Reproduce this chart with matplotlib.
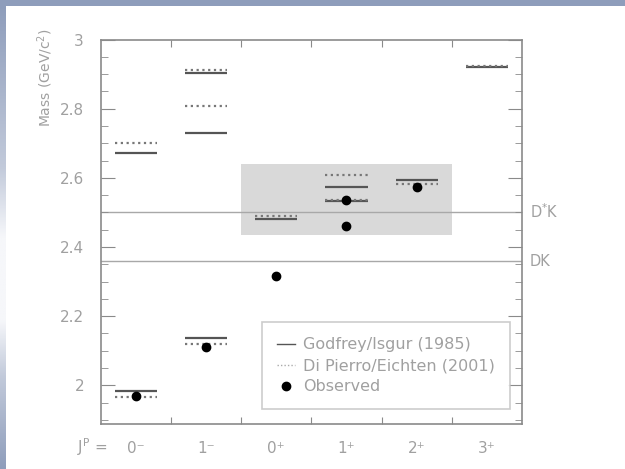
import numpy as np
import matplotlib
matplotlib.use("Agg")
import matplotlib.pyplot as plt
from matplotlib.patches import Rectangle
from matplotlib.lines import Line2D
from matplotlib.ticker import MultipleLocator, FuncFormatter, FixedLocator

# ---------------- data ----------------
categories = ["0\u207b", "1\u207b", "0\u207a", "1\u207a", "2\u207a", "3\u207a"]

gi_cat = [0, 0, 1, 1, 1, 2, 3, 3, 4, 5]
gi_mass = [1.982, 2.671, 2.136, 2.731, 2.902, 2.481, 2.534, 2.572, 2.593, 2.920]

dpe_cat = [0, 0, 1, 1, 1, 2, 3, 3, 4, 5]
dpe_mass = [1.965, 2.700, 2.119, 2.807, 2.912, 2.489, 2.536, 2.608, 2.583, 2.922]

obs_cat = [0, 1, 2, 3, 3, 4]
obs_mass = [1.969, 2.112, 2.317, 2.460, 2.536, 2.573]

thresholds = [2.501, 2.359]
threshold_labels = ["D$^{*}$K", "DK"]

legend_labels = ["Godfrey/Isgur (1985)", "Di Pierro/Eichten (2001)", "Observed"]

# ---------------- figure ----------------
W, H = 625, 469
fig = plt.figure(figsize=(W / 100, H / 100), dpi=100)
fig.patch.set_facecolor("white")

# blue frame: top bar and left gradient bar
fig.add_artist(Rectangle((0, 1 - 6 / H), 1, 6 / H, transform=fig.transFigure,
                         facecolor="#8e9dbb", edgecolor="none", zorder=0))
gax = fig.add_axes([0, 0, 6 / W, 1 - 6 / H])
gax.set_axis_off()
stops = np.array([0.0, 0.35, 0.5, 0.68, 0.8, 1.0])
top = np.array([0x8e, 0x9d, 0xbb]) / 255
mid = np.array([0xf6, 0xf7, 0xfa]) / 255
cols = [top, (top * 0.5 + mid * 0.5), mid, mid, (top * 0.5 + mid * 0.5), top]
n = 400
t = np.linspace(0, 1, n)
grad = np.zeros((n, 1, 3))
for c in range(3):
    grad[:, 0, c] = np.interp(t, stops, [col[c] for col in cols])
gax.imshow(grad, aspect="auto", extent=(0, 1, 1, 0))

ax_top, ax_bot = 39.5, 424.0
ax = fig.add_axes([100.7 / W, (H - ax_bot) / H, (522 - 100.7) / W, (ax_bot - ax_top) / H])

text_col = "#a0a0a0"
frame_col = "#8a8a8a"

ax.set_xlim(0, 6)
ax.set_ylim(1.888, 3.0)

# shaded region
ax.add_patch(Rectangle((2, 2.436), 3, 0.205, facecolor="#d9d9d9", edgecolor="none", zorder=0))

# thresholds
for m, lab in zip(thresholds, threshold_labels):
    ax.axhline(m, color="#a8a8a8", lw=1.0, zorder=1)
    ax.text(1.018, m, lab, transform=ax.get_yaxis_transform(), ha="left", va="center",
            fontsize=10.5, color=text_col)

hw = 0.3
gx = np.array(gi_cat) + 0.5
ax.hlines(gi_mass, gx - hw, gx + hw, colors="#555555", lw=1.6, zorder=3)
dx = np.array(dpe_cat) + 0.5
ax.hlines(dpe_mass, dx - hw, dx + hw, colors="#777777", lw=1.6,
          linestyles=(0, (1.0, 1.6)), zorder=3)
ox = np.array(obs_cat) + 0.5
ax.plot(ox, obs_mass, "o", color="black", ms=6, zorder=5)

# axes styling
for s in ax.spines.values():
    s.set_color(frame_col)
    s.set_linewidth(1.2)

ax.xaxis.set_major_locator(FixedLocator([1, 2, 3, 4, 5]))
ax.xaxis.set_minor_locator(FixedLocator(np.arange(len(categories)) + 0.5))
ax.xaxis.set_major_formatter(FuncFormatter(lambda v, p: ""))
ax.set_xticklabels(categories, minor=True)
ax.tick_params(axis="x", which="major", direction="in", length=5, top=True, bottom=True,
               color=frame_col)
ax.tick_params(axis="x", which="minor", length=0, pad=12, labelsize=11, labelcolor=text_col)

ax.yaxis.set_major_locator(MultipleLocator(0.2))
ax.yaxis.set_minor_locator(MultipleLocator(0.05))
ax.yaxis.set_major_formatter(FuncFormatter(lambda v, p: "%g" % round(v, 2)))
ax.tick_params(axis="y", which="major", direction="in", length=10, left=True, right=True,
               color=frame_col, labelsize=11, labelcolor=text_col, pad=12)
ax.tick_params(axis="y", which="minor", direction="in", length=5, left=True, right=True,
               color=frame_col)

ax.text(0.09, -0.061, r"$\mathregular{J^P}$ =", transform=ax.get_xaxis_transform(),
        ha="right", va="center", fontsize=11, color=text_col)

ax.text(-0.132, 0.90, "Mass (GeV/c$^2$)", transform=ax.transAxes, rotation=90,
        ha="center", va="center", fontsize=10, color=text_col)

handles = [
    Line2D([], [], color="#555555", lw=1.0),
    Line2D([], [], color="#aaaaaa", lw=1.0, linestyle=(0, (1, 1.5))),
    Line2D([], [], color="black", marker="o", ms=6, linestyle="none"),
]
leg_top = (ax_bot - 322) / (ax_bot - ax_top)
leg = ax.legend(handles, legend_labels, loc="upper left", bbox_to_anchor=(0.383, leg_top),
                borderaxespad=0, frameon=True, fancybox=False, fontsize=11.5,
                labelcolor=text_col, handlelength=1.1, handletextpad=0.5,
                labelspacing=0.38, borderpad=0.95)
leg.get_frame().set_edgecolor("#c0c0c0")
leg.get_frame().set_linewidth(1.2)
leg.set_zorder(6)

fig.savefig("out.png", dpi=100)
